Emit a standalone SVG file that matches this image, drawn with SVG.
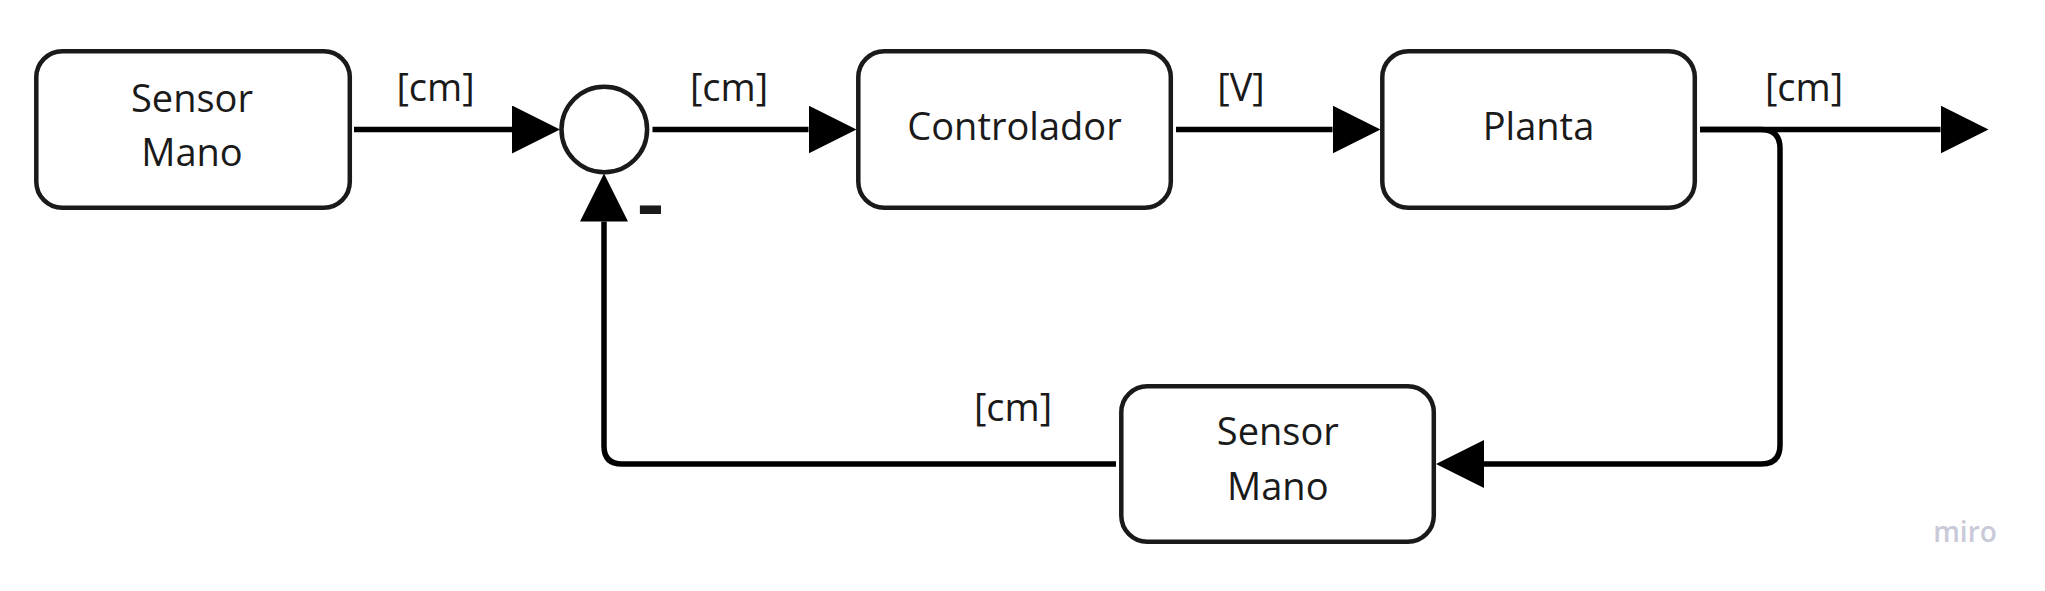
<svg xmlns="http://www.w3.org/2000/svg" width="2045" height="591" viewBox="0 0 2045 591">
  <style>
    .box { fill: #ffffff; stroke: #1a1a1a; stroke-width: 4.5; }
    .lbl { font-family: "Open Sans", "Noto Sans", "Liberation Sans", sans-serif; font-size: 38px; fill: #1a1a1a; text-anchor: middle; }
    .wire { fill: none; stroke: #000000; stroke-width: 5.5; stroke-linejoin: round; }
    .minus { font-family: "Open Sans", "Noto Sans", "Liberation Sans", sans-serif; font-size: 70px; font-weight: 700; fill: #1a1a1a; text-anchor: middle; }
    .wm { font-family: "Open Sans", "Noto Sans", "Liberation Sans", sans-serif; font-size: 28px; font-weight: 600; fill: #c9cad8; text-anchor: middle; }
  </style>
  <defs>
    <marker id="arrow" markerUnits="userSpaceOnUse" markerWidth="48" markerHeight="48" refX="0" refY="23" orient="auto" viewBox="0 0 46 46">
      <polygon points="0,0 46,23 0,46" fill="#000000"/>
    </marker>
  </defs>
  <rect width="2045" height="591" fill="#ffffff"/>

  <g id="connectors">
    <path class="wire" d="M354,129.5 H512" marker-end="url(#arrow)"/>
    <path class="wire" d="M652.5,129.5 H808.5" marker-end="url(#arrow)"/>
    <path class="wire" d="M1176,129.5 H1332.5" marker-end="url(#arrow)"/>
    <path class="wire" d="M1700,129.5 H1940.5" marker-end="url(#arrow)"/>
    <path class="wire" d="M1700,129.5 H1761 Q1780,129.5 1780,148.5 V445 Q1780,464 1761,464 H1484" marker-end="url(#arrow)"/>
    <path class="wire" d="M1116,464 H622 Q604,464 604,446 V221.5" marker-end="url(#arrow)"/>
    <text class="lbl" x="435.5" y="101">[cm]</text>
    <text class="lbl" x="729" y="101">[cm]</text>
    <text class="lbl" x="1241" y="101">[V]</text>
    <text class="lbl" x="1804" y="101">[cm]</text>
    <text class="lbl" x="1013" y="421">[cm]</text>
  </g>

  <g id="sensor-mano-1">
    <rect class="box" x="36.3" y="51.3" width="313.5" height="156.5" rx="26"/>
    <text class="lbl" x="192" y="111.5">Sensor</text>
    <text class="lbl" x="192" y="165.5">Mano</text>
  </g>

  <g id="sum">
    <circle cx="604.3" cy="129.5" r="42.8" fill="#ffffff" stroke="#1a1a1a" stroke-width="4.5"/>
    <text class="minus" transform="translate(650.5,228.5) scale(1.15,1)" x="0" y="0">-</text>
  </g>

  <g id="controlador">
    <rect class="box" x="858.3" y="51.3" width="312.5" height="156.5" rx="26"/>
    <text class="lbl" x="1014.5" y="140">Controlador</text>
  </g>

  <g id="planta">
    <rect class="box" x="1382.3" y="51.3" width="312.5" height="156.5" rx="26"/>
    <text class="lbl" x="1538.5" y="140">Planta</text>
  </g>

  <g id="sensor-mano-2">
    <rect class="box" x="1121.3" y="386.3" width="312.5" height="155.5" rx="26"/>
    <text class="lbl" x="1277.8" y="444.7">Sensor</text>
    <text class="lbl" x="1277.8" y="500.4">Mano</text>
  </g>

  <text class="wm" x="1965" y="541.5">miro</text>
</svg>
